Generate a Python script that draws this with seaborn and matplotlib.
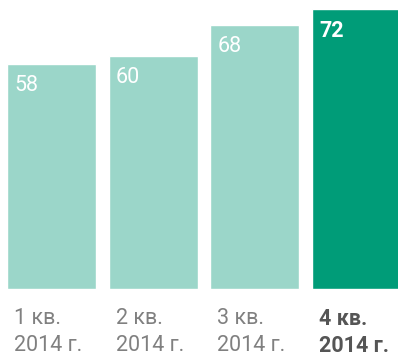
import matplotlib
matplotlib.use("Agg")
import matplotlib.pyplot as plt
import seaborn as sns
import pandas as pd

# Данные: показатель по кварталам 2014 года
quarters = ["1 кв.", "2 кв.", "3 кв.", "4 кв."]
years = ["2014 г.", "2014 г.", "2014 г.", "2014 г."]
values = [58, 60, 68, 72]
bar_colors = ["#9bd6c9", "#9bd6c9", "#9bd6c9", "#009c78"]

sns.set_style("white")
plt.rcParams["font.family"] = ["Roboto", "DejaVu Sans"]

df = pd.DataFrame({"quarter": quarters, "value": values})

fig = plt.figure(figsize=(3.98, 3.56), dpi=100)
ax = fig.add_axes([0, 0.1882, 1, 0.8118])

width = 0.875
sns.barplot(data=df, x="quarter", y="value", hue="quarter", palette=bar_colors,
            width=width, saturation=1, legend=False, ax=ax)

ax.set_xlim(-0.5065, 3.408)
ax.set_ylim(0, 74.39)
ax.axis("off")

last = len(values) - 1
for i, v in enumerate(values):
    left = i - width / 2
    bold = i == last
    weight = "bold" if bold else "normal"
    txt_color = "#555555" if bold else "#808080"
    # подпись значения внутри столбца
    ax.annotate(str(v), xy=(left, v), xytext=(5.0, -8.0), textcoords="offset points",
                ha="left", va="top", color="white", fontsize=15.5, fontweight=weight)
    # подписи кварталов под столбцами
    ax.annotate(quarters[i], xy=(left, 0), xytext=(5.0, -13.5), textcoords="offset points",
                ha="left", va="top", fontsize=15.5, annotation_clip=False,
                color=txt_color, fontweight=weight)
    ax.annotate(years[i], xy=(left, 0), xytext=(5.0, -33.0), textcoords="offset points",
                ha="left", va="top", fontsize=15.5, annotation_clip=False,
                color=txt_color, fontweight=weight)

fig.savefig("out.png", dpi=100)
